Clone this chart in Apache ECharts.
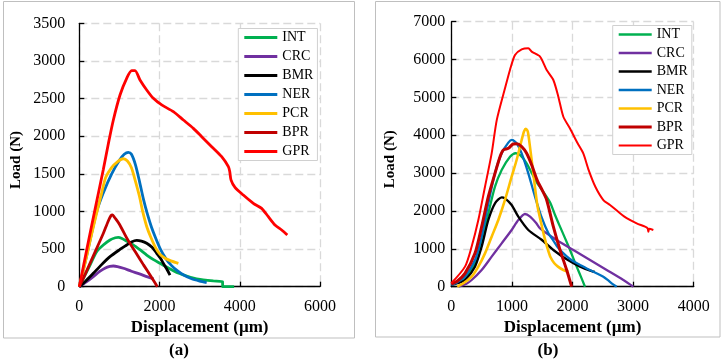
<!DOCTYPE html>
<html>
<head>
<meta charset="utf-8">
<script src="https://cdn.jsdelivr.net/npm/echarts@6/dist/echarts.min.js"></script>
<style>
html,body{margin:0;padding:0;background:#fff;}
#c{width:724px;height:362px;}
</style>
</head>
<body>
<div id="c"></div>
<script>
// series names (same order in both panels)
const NAMES = ['INT','CRC','BMR','NER','PCR','BPR','GPR'];
const COLORS = ['#00b050','#7030a0','#000000','#0070c0','#ffc000','#c00000','#ff0000'];

// panel (a) ticks
const A_X = {min:0, max:6000, step:2000};
const A_Y = {min:0, max:3500, step:500};
// panel (b) ticks
const B_X = {min:0, max:4000, step:1000};
const B_Y = {min:0, max:7000, step:1000};

// panel (a) curves: [displacement um, load N]
const A_INT = [[0,0],[130,140],[267,288],[433,465],[598,554],[765,621],[900,650],[972,656],[1050,645],[1200,600],[1346,555],[1500,495],[1680,421],[1850,360],[2012,311],[2200,255],[2344,213],[2500,175],[2677,142],[2850,115],[3009,98],[3200,84],[3341,76],[3570,66],[3575,2],[3600,0],[3860,0]];
const A_CRC = [[0,0],[184,66],[349,133],[500,200],[650,250],[760,270],[848,275],[950,268],[1100,245],[1300,205],[1500,170],[1700,130],[1850,105]];
const A_BMR = [[0,0],[150,70],[349,178],[550,290],[765,399],[1000,490],[1182,554],[1300,595],[1431,615],[1550,605],[1680,577],[1820,520],[1930,444],[2020,380],[2094,311],[2180,235],[2261,155]];
const A_NER = [[0,0],[200,450],[433,1000],[600,1250],[807,1500],[1000,1680],[1120,1760],[1222,1785],[1300,1760],[1400,1620],[1500,1400],[1600,1160],[1700,960],[1800,790],[1900,650],[2012,510],[2150,380],[2300,280],[2450,210],[2600,155],[2800,105],[3000,75],[3175,55]];
const A_PCR = [[0,0],[150,330],[300,680],[433,980],[550,1230],[657,1450],[800,1580],[950,1660],[1097,1700],[1200,1670],[1300,1580],[1400,1400],[1500,1200],[1580,1000],[1680,800],[1780,660],[1900,520],[2012,430],[2150,375],[2300,340],[2470,310]];
const A_BPR = [[0,0],[150,170],[300,350],[450,530],[600,710],[720,870],[790,945],[830,955],[880,920],[1000,830],[1200,630],[1400,460],[1600,290],[1800,125],[1945,0]];
const A_GPR = [[0,0],[200,530],[400,1050],[600,1560],[724,1900],[849,2215],[1015,2547],[1181,2769],[1306,2871],[1389,2871],[1513,2747],[1680,2614],[1846,2503],[2054,2415],[2344,2326],[2594,2215],[2843,2104],[3051,1994],[3300,1861],[3549,1728],[3716,1595],[3750,1530],[3781,1420],[3881,1320],[4088,1218],[4338,1108],[4545,1041],[4712,930],[4878,820],[5044,753],[5185,687]];

// panel (b) curves
const B_INT = [[0,45],[100,110],[226,220],[391,617],[501,1145],[611,1938],[721,2643],[831,3083],[969,3435],[1060,3525],[1133,3480],[1243,3259],[1400,2780],[1520,2500],[1629,2230],[1710,1900],[1794,1586],[1880,1270],[1959,970],[2069,530],[2140,260],[2206,0]];
const B_CRC = [[120,0],[250,80],[336,177],[501,441],[666,793],[831,1145],[996,1498],[1106,1762],[1216,1920],[1300,1850],[1400,1680],[1464,1542],[1739,1234],[2014,970],[2289,706],[2564,442],[2839,177],[3004,0]];
const B_BMR = [[0,45],[100,90],[226,177],[391,529],[501,1057],[611,1762],[721,2202],[831,2361],[886,2334],[996,2158],[1106,1850],[1271,1498],[1491,1240],[1684,970],[1904,723],[2124,530],[2344,397],[2371,390]];
const B_NER = [[0,45],[100,120],[226,265],[391,705],[501,1322],[611,2203],[721,2995],[831,3523],[941,3805],[1000,3876],[1078,3788],[1161,3523],[1271,2995],[1381,2379],[1480,1880],[1600,1420],[1684,1220],[1766,1020],[1904,800],[2014,670],[2124,574],[2234,480],[2344,397],[2430,330],[2509,265],[2580,180],[2646,89],[2729,0]];
const B_PCR = [[100,0],[116,18],[200,90],[336,265],[446,529],[556,881],[666,1322],[776,1762],[886,2291],[996,2907],[1078,3347],[1161,3875],[1200,4100],[1230,4170],[1262,4100],[1298,3700],[1353,2995],[1420,2150],[1480,1700],[1530,1350],[1590,1000],[1640,770],[1700,620],[1760,530],[1849,442],[1931,397]];
const B_BPR = [[0,71],[100,150],[226,352],[391,881],[501,1586],[611,2378],[721,2995],[804,3435],[859,3611],[941,3655],[1023,3770],[1078,3775],[1161,3700],[1243,3523],[1330,3200],[1420,2800],[1500,2550],[1574,2291],[1684,1586],[1794,970],[1904,442],[1986,0]];
const B_GPR = [[0,90],[226,530],[336,1060],[446,1760],[556,2640],[666,3520],[750,4400],[886,5240],[968,5725],[1051,6120],[1161,6270],[1271,6300],[1326,6210],[1464,6080],[1574,5725],[1684,5460],[1766,5020],[1849,4490],[1959,4180],[2080,3800],[2178,3520],[2267,3080],[2377,2640],[2509,2290],[2619,2160],[2784,1940],[2894,1810],[3059,1675],[3197,1586],[3240,1540],[3252,1454],[3265,1530],[3334,1498]];

const A_DATA = [A_INT,A_CRC,A_BMR,A_NER,A_PCR,A_BPR,A_GPR];
const B_DATA = [B_INT,B_CRC,B_BMR,B_NER,B_PCR,B_BPR,B_GPR];
const A_WIDTH = [2.8,2.8,2.8,2.8,2.8,2.8,2.8];
const B_WIDTH = [2.3,2.3,2.3,2.3,2.6,3,2];

const FONT = '"Liberation Serif","Times New Roman",serif';

function xAx(idx, t){
  return {gridIndex:idx, type:'value', min:t.min, max:t.max, interval:t.step,
    name:'Displacement (µm)', nameLocation:'middle', nameGap:31,
    nameTextStyle:{fontFamily:FONT, fontWeight:'bold', fontSize:17, color:'#000'},
    axisLine:{show:true, lineStyle:{color:'#000', width:1.3}},
    axisTick:{show:true, inside:true, length:5, lineStyle:{color:'#000', width:1.3}},
    axisLabel:{fontFamily:FONT, fontSize:16, color:'#000', margin:12, formatter:v=>String(v)},
    splitLine:{show:true, lineStyle:{type:[8,4], color:'#d9d9d9', width:1.3}}};
}
function yAx(idx, t, gap, lm){
  return {gridIndex:idx, type:'value', min:t.min, max:t.max, interval:t.step,
    name:'Load (N)', nameLocation:'middle', nameGap:gap,
    nameTextStyle:{fontFamily:FONT, fontWeight:'bold', fontSize:15, color:'#000', padding:[0,10,0,0]},
    axisLine:{show:true, lineStyle:{color:'#000', width:1.3}},
    axisTick:{show:true, inside:true, length:5, lineStyle:{color:'#000', width:1.3}},
    axisLabel:{fontFamily:FONT, fontSize:16, color:'#000', margin:lm, formatter:v=>String(v)},
    splitLine:{show:true, lineStyle:{type:[8,4], color:'#d9d9d9', width:1.3}}};
}
function legendAt(left, top, gap, ih, widths){
  return {left:left, top:top, orient:'vertical', itemWidth:33, itemHeight:ih, itemGap:gap,
    padding:[2,4,2,6], backgroundColor:'#fff', borderColor:'#d0d0d0', borderWidth:1,
    textStyle:{fontFamily:FONT, fontSize:14, color:'#000'},
    data:NAMES.map((n,i)=>({name:n, icon:'path://M0,0 L40,0 L40,'+(widths[i]*40/33).toFixed(2)+' L0,'+(widths[i]*40/33).toFixed(2)+' Z', itemStyle:{color:COLORS[i]}})),
    selectedMode:false};
}

const series = [];
A_DATA.forEach((d,i)=>series.push({name:NAMES[i], type:'line', xAxisIndex:0, yAxisIndex:0, data:d, symbol:'none', smooth:0.25, lineStyle:{color:COLORS[i], width:A_WIDTH[i]}, itemStyle:{color:COLORS[i]}, z:2+i}));
B_DATA.forEach((d,i)=>series.push({name:NAMES[i], type:'line', xAxisIndex:1, yAxisIndex:1, data:d, symbol:'none', smooth:0.25, lineStyle:{color:COLORS[i], width:B_WIDTH[i]}, itemStyle:{color:COLORS[i]}, z:2+i}));

const chart = echarts.init(document.getElementById('c'), null, {renderer:'canvas'});
chart.setOption({
  animation:false,
  backgroundColor:'#fff',
  grid:[
    {left:79.3, top:23.3, width:240.7, height:263.4},
    {left:451.3, top:21.7, width:242.4, height:265}
  ],
  xAxis:[xAx(0,A_X), xAx(1,B_X)],
  yAxis:[yAx(0,A_Y,56,14), yAx(1,B_Y,53.5,6)],
  legend:[legendAt(238.3,28.5,5,14,A_WIDTH), legendAt(612.7,25.5,4.5,13,B_WIDTH)],
  graphic:[
    {type:'rect', shape:{x:3.5, y:1.5, width:351, height:336.5}, style:{fill:'none', stroke:'#bfbfbf', lineWidth:1}, z:-1},
    {type:'rect', shape:{x:375.5, y:1.5, width:344.5, height:335.5}, style:{fill:'none', stroke:'#bfbfbf', lineWidth:1}, z:-1},
    {type:'text', x:179, y:351, style:{text:'(a)', textAlign:'center', textVerticalAlign:'middle', font:'bold 17px '+FONT, fill:'#000'}},
    {type:'text', x:548, y:351, style:{text:'(b)', textAlign:'center', textVerticalAlign:'middle', font:'bold 17px '+FONT, fill:'#000'}}
  ],
  series:series
});
</script>
</body>
</html>
